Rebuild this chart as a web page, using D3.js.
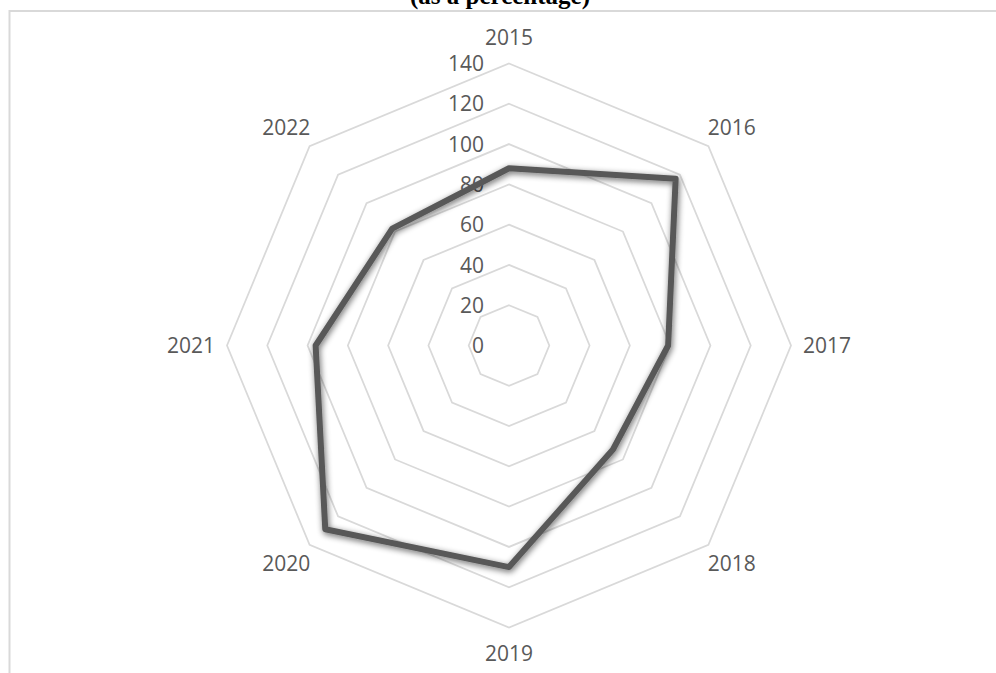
<!DOCTYPE html>
<html>
<head>
<meta charset="utf-8">
<script src="https://cdn.jsdelivr.net/npm/d3@7"></script>
<style>
	body { margin: 0; background: #fff; }
	svg { display: block; }
</style>
</head>
<body>
<svg id="chart"></svg>
<script>
// data
const years = ["2015", "2016", "2017", "2018", "2019", "2020", "2021", "2022"];
const values = [88, 117, 79, 73, 110, 129, 96, 82];
const ticks = [0, 20, 40, 60, 80, 100, 120, 140];

const width = 996;
const height = 673;
const cx = 509;
const cy = 345.5;
const radius = 282;

const svg = d3.select("#chart").attr("width", width).attr("height", height);

// shadow under the series line
const defs = svg.append("defs");
const filter = defs.append("filter")
	.attr("id", "shadow")
	.attr("x", "-20%").attr("y", "-20%")
	.attr("width", "140%").attr("height", "140%");
filter.append("feGaussianBlur").attr("in", "SourceAlpha").attr("stdDeviation", 3).attr("result", "blur");
filter.append("feOffset").attr("in", "blur").attr("dx", 1).attr("dy", 2).attr("result", "off");
filter.append("feComponentTransfer").attr("in", "off").attr("result", "soft")
	.append("feFuncA").attr("type", "linear").attr("slope", 0.6);
const merge = filter.append("feMerge");
merge.append("feMergeNode").attr("in", "soft");
merge.append("feMergeNode").attr("in", "SourceGraphic");

// title, cut off at the top as in the original
svg.append("text")
	.attr("x", 500)
	.attr("y", 4)
	.attr("text-anchor", "middle")
	.style("font-family", "'Liberation Serif', 'Times New Roman', serif")
	.style("font-weight", "bold")
	.style("font-size", "25px")
	.style("fill", "#000")
	.text("(as a percentage)");

// chart area border
svg.append("rect")
	.attr("x", 9.5)
	.attr("y", 11)
	.attr("width", 1000)
	.attr("height", 700)
	.attr("fill", "none")
	.attr("stroke", "#d9d9d9")
	.attr("stroke-width", 2);

const r = d3.scaleLinear().domain([0, 140]).range([0, radius]);
const angle = d3.scalePoint().domain(years).range([0, 2 * Math.PI * (years.length - 1) / years.length]);

const g = svg.append("g").attr("transform", `translate(${cx}, ${cy})`);

const radarLine = d3.lineRadial()
	.angle((d) => angle(d.year))
	.radius((d) => r(d.value))
	.curve(d3.curveLinearClosed);

// grid rings
g.selectAll("path.ring")
	.data(ticks.filter((t) => t > 0))
	.join("path")
	.attr("class", "ring")
	.attr("d", (t) => radarLine(years.map((y) => ({ year: y, value: t }))))
	.attr("fill", "none")
	.attr("stroke", "#d9d9d9")
	.attr("stroke-width", 1.75);

// value axis labels
g.selectAll("text.tick")
	.data(ticks)
	.join("text")
	.attr("class", "tick")
	.attr("x", -25)
	.attr("y", (t) => -r(t))
	.attr("dy", "0.36em")
	.attr("text-anchor", "end")
	.style("font-family", "'Open Sans', sans-serif")
	.style("font-size", "21px")
	.style("fill", "#595959")
	.text((t) => t);

// category labels
g.selectAll("text.cat")
	.data(years)
	.join("text")
	.attr("class", "cat")
	.attr("x", (y) => {
		const a = angle(y);
		return Math.sin(a) * (radius + 26 + 10 * Math.abs(Math.sin(a)));
	})
	.attr("y", (y) => {
		const a = angle(y);
		return -Math.cos(a) * (radius + 26);
	})
	.attr("dy", "0.36em")
	.attr("text-anchor", "middle")
	.style("font-family", "'Open Sans', sans-serif")
	.style("font-size", "21px")
	.style("fill", "#595959")
	.text((y) => y);

// series line
g.append("path")
	.datum(years.map((y, i) => ({ year: y, value: values[i] })))
	.attr("d", radarLine)
	.attr("fill", "none")
	.attr("stroke", "#595959")
	.attr("stroke-width", 6)
	.attr("stroke-linejoin", "round")
	.attr("filter", "url(#shadow)");
</script>
</body>
</html>
